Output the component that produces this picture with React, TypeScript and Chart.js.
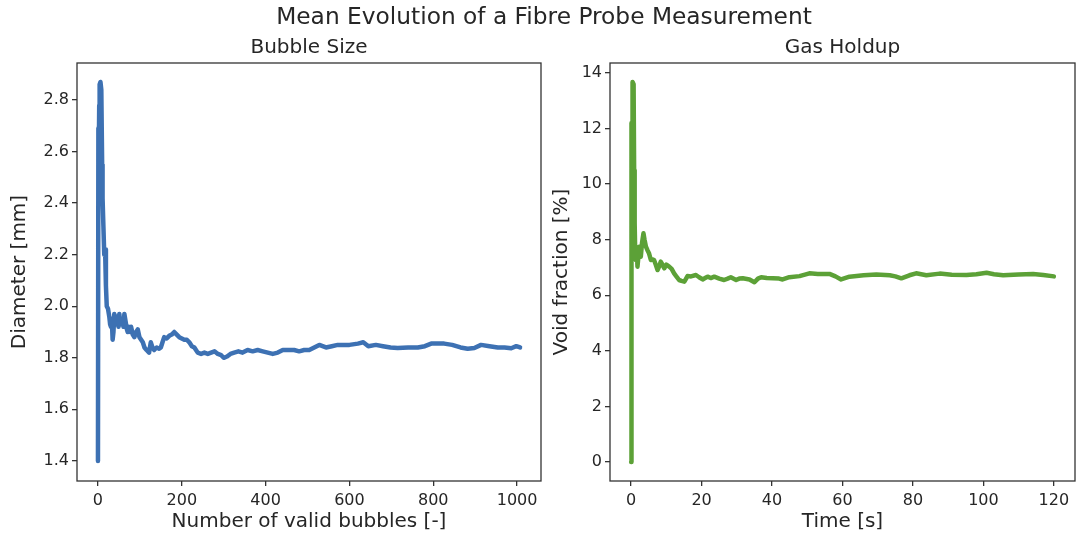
import React, { useEffect, useRef } from 'react';
import { Chart, registerables } from 'chart.js';

Chart.register(...registerables);

// ---------- data ----------
const BUBBLE_COUNT = [
  0, 1, 2, 3, 4, 6, 8, 10, 11, 13, 15, 17, 19, 21, 24, 27, 29, 31, 33, 35, 37, 39, 41, 43, 46, 49,
  51, 53, 55, 58, 61, 63, 66, 69, 71, 74, 77, 79, 83, 87, 91, 95, 99, 103, 107, 111, 116, 122,
  126, 130, 134, 140, 146, 150, 154, 158, 164, 170, 176, 182, 188, 194, 200, 206, 212, 218, 224,
  230, 238, 246, 254, 262, 270, 278, 286, 294, 300, 308, 316, 325, 335, 345, 357, 369, 381, 393,
  405, 417, 429, 441, 455, 468, 480, 492, 504, 516, 528, 544, 558, 572, 586, 600, 620, 633, 645,
  663, 680, 698, 715, 740, 763, 780, 795, 810, 826, 845, 865, 882, 898, 914, 934, 954, 970, 986,
  998, 1007,
];
const MEAN_DIAMETER = [
  1.40, 2.69, 2.60, 2.78, 2.86, 2.87, 2.84, 2.55, 2.42, 2.31, 2.20, 2.22, 2.08, 2.00, 1.99, 1.96,
  1.93, 1.92, 1.95, 1.87, 1.90, 1.97, 1.94, 1.93, 1.96, 1.92, 1.97, 1.94, 1.93, 1.95, 1.92, 1.97,
  1.94, 1.91, 1.90, 1.92, 1.90, 1.92, 1.89, 1.88, 1.90, 1.91, 1.88, 1.87, 1.86, 1.84, 1.83, 1.82,
  1.86, 1.84, 1.83, 1.84, 1.835, 1.84, 1.86, 1.88, 1.875, 1.885, 1.89, 1.90, 1.89, 1.88, 1.875,
  1.87, 1.87, 1.86, 1.845, 1.84, 1.82, 1.815, 1.82, 1.815, 1.82, 1.825, 1.815, 1.81, 1.80, 1.805,
  1.815, 1.82, 1.825, 1.82, 1.83, 1.825, 1.83, 1.825, 1.82, 1.815, 1.82, 1.83, 1.83, 1.83, 1.825,
  1.83, 1.83, 1.84, 1.85, 1.84, 1.845, 1.85, 1.85, 1.85, 1.855, 1.86, 1.845, 1.85, 1.845, 1.84,
  1.838, 1.84, 1.84, 1.845, 1.855, 1.855, 1.855, 1.85, 1.84, 1.835, 1.838, 1.85, 1.845, 1.84,
  1.84, 1.837, 1.845, 1.84,
];

const TIME_S = [
  0, 0.1, 0.25, 0.4, 0.7, 0.85, 1.0, 1.15, 1.33, 1.6, 1.8, 2.0, 2.27, 2.5, 2.75, 3.1, 3.5, 3.8,
  4.2, 4.6, 5.1, 5.6, 6.0, 6.5, 7.0, 7.5, 8.0, 8.4, 8.9, 9.4, 10.0, 10.8, 11.5, 12.2, 13.0, 13.6,
  14.3, 15.1, 15.6, 16.0, 17.0, 18.4, 19.3, 20.3, 21.0, 21.7, 22.6, 23.6, 25.0, 26.4, 27.4, 28.3,
  29.8, 30.7, 31.7, 33.6, 35.0, 36.0, 36.9, 38.5, 40.2, 42.0, 43.0, 44.9, 47.8, 50.6, 53.0, 56.3,
  58.0, 59.6, 62.0, 66.0, 69.6, 73.4, 75.0, 76.7, 79.0, 80.9, 83.8, 87.6, 91.0, 95.2, 98.0, 100.9,
  103.0, 105.6, 110.0, 114.1, 117.0, 120.0,
];
const VOID_FRACTION = [
  0, 12.2, 11.0, 13.68, 13.6, 10.5, 8.6, 7.6, 7.27, 7.6, 7.03, 7.3, 7.75, 7.6, 7.39, 7.9, 8.23, 8.0,
  7.75, 7.63, 7.5, 7.27, 7.3, 7.27, 7.1, 6.91, 7.05, 7.21, 7.1, 6.97, 7.1, 7.03, 6.95, 6.79, 6.65,
  6.55, 6.52, 6.49, 6.6, 6.69, 6.68, 6.73, 6.65, 6.57, 6.62, 6.67, 6.62, 6.67, 6.6, 6.55, 6.6, 6.65,
  6.55, 6.6, 6.61, 6.57, 6.47, 6.6, 6.65, 6.62, 6.61, 6.6, 6.57, 6.65, 6.69, 6.79, 6.77, 6.77,
  6.68, 6.57, 6.67, 6.72, 6.75, 6.72, 6.68, 6.61, 6.72, 6.79, 6.72, 6.78, 6.74, 6.73, 6.76, 6.81,
  6.76, 6.72, 6.75, 6.77, 6.73, 6.68,
];

const BUBBLE_TICKS = [0, 200, 400, 600, 800, 1000];
const DIAMETER_TICKS = [1.4, 1.6, 1.8, 2.0, 2.2, 2.4, 2.6, 2.8];
const TIME_TICKS = [0, 20, 40, 60, 80, 100, 120];
const VOID_TICKS = [0, 2, 4, 6, 8, 10, 12, 14];

const SUPTITLE = 'Mean Evolution of a Fibre Probe Measurement';

// ---------- styling ----------
const FONT = "'DejaVu Sans', sans-serif";
const TEXT = '#262626';
const SPINE = '#333333';

const framePlugin = {
  id: 'frame',
  afterDraw(chart: any) {
    const { ctx, chartArea: a } = chart;
    ctx.save();
    ctx.strokeStyle = SPINE;
    ctx.lineWidth = 1.3;
    ctx.strokeRect(a.left, a.top, a.right - a.left, a.bottom - a.top);
    ctx.restore();
  },
};

function makeTitlePlugin(text: string) {
  return {
    id: 'panelTitle',
    afterDraw(chart: any) {
      const { ctx, chartArea: a } = chart;
      ctx.save();
      ctx.fillStyle = TEXT;
      ctx.font = `20px ${FONT}`;
      ctx.textAlign = 'center';
      ctx.textBaseline = 'middle';
      ctx.fillText(text, (a.left + a.right) / 2, 48);
      ctx.restore();
    },
  };
}

type PanelSpec = {
  title: string;
  xs: number[];
  ys: number[];
  color: string;
  xTicks: number[];
  yTicks: number[];
  xMin: number;
  xMax: number;
  yMin: number;
  yMax: number;
  xLabel: string;
  yLabel: string;
  yFmt: (v: number) => string;
  yAxisWidth: number;
  yTitlePad: number;
  rightPad: number;
};

function buildConfig(p: PanelSpec): any {
  return {
    type: 'line',
    data: {
      datasets: [
        {
          data: p.xs.map((x, i) => ({ x, y: p.ys[i] })),
          borderColor: p.color,
          backgroundColor: p.color,
          borderWidth: 4.5,
          pointRadius: 0,
          tension: 0,
          fill: false,
          borderJoinStyle: 'round',
          borderCapStyle: 'round',
        },
      ],
    },
    options: {
      responsive: false,
      animation: false,
      devicePixelRatio: 1,
      layout: { padding: { top: 63, left: 0, bottom: 0, right: p.rightPad } },
      plugins: {
        legend: { display: false },
        tooltip: { enabled: false },
        title: { display: false },
      },
      scales: {
        x: {
          type: 'linear',
          min: p.xMin,
          max: p.xMax,
          afterBuildTicks: (s: any) => {
            s.ticks = p.xTicks.map((v) => ({ value: v }));
          },
          afterFit: (s: any) => {
            s.height = 57;
          },
          grid: {
            drawOnChartArea: false,
            drawTicks: true,
            tickLength: 5,
            color: SPINE,
            lineWidth: 1.3,
          },
          border: { display: false },
          ticks: {
            autoSkip: false,
            maxRotation: 0,
            padding: 5,
            color: TEXT,
            font: { family: FONT, size: 16 },
            callback: (v: any) => String(v),
          },
          title: {
            display: true,
            text: p.xLabel,
            color: TEXT,
            font: { family: FONT, size: 20, lineHeight: 1.2 },
            padding: { top: 0, bottom: 4 },
          },
        },
        y: {
          type: 'linear',
          min: p.yMin,
          max: p.yMax,
          afterBuildTicks: (s: any) => {
            s.ticks = p.yTicks.map((v) => ({ value: v }));
          },
          afterFit: (s: any) => {
            s.width = p.yAxisWidth;
          },
          grid: {
            drawOnChartArea: false,
            drawTicks: true,
            tickLength: 5,
            color: SPINE,
            lineWidth: 1.3,
          },
          border: { display: false },
          ticks: {
            autoSkip: false,
            padding: 3,
            color: TEXT,
            font: { family: FONT, size: 16 },
            callback: (v: any) => p.yFmt(Number(v)),
          },
          title: {
            display: true,
            text: p.yLabel,
            color: TEXT,
            font: { family: FONT, size: 20, lineHeight: 1.2 },
            padding: { top: p.yTitlePad, bottom: 0 },
          },
        },
      },
    },
    plugins: [framePlugin, makeTitlePlugin(p.title)],
  };
}

function Panel(props: { spec: PanelSpec; left: number; width: number }) {
  const ref = useRef<HTMLCanvasElement | null>(null);
  useEffect(() => {
    if (!ref.current) return;
    const chart = new Chart(ref.current, buildConfig(props.spec));
    return () => chart.destroy();
  }, []);
  return (
    <canvas
      ref={ref}
      width={props.width}
      height={538}
      style={{
        position: 'absolute',
        left: props.left,
        top: 0,
        width: props.width,
        height: 538,
        display: 'block',
      }}
    />
  );
}

const leftSpec: PanelSpec = {
  title: 'Bubble Size',
  xs: BUBBLE_COUNT,
  ys: MEAN_DIAMETER,
  color: '#3d71b3',
  xTicks: BUBBLE_TICKS,
  yTicks: DIAMETER_TICKS,
  xMin: -50,
  xMax: 1057,
  yMin: 1.322,
  yMax: 2.9435,
  xLabel: 'Number of valid bubbles [-]',
  yLabel: 'Diameter [mm]',
  yFmt: (v) => v.toFixed(1),
  yAxisWidth: 77,
  yTitlePad: 8,
  rightPad: 19,
};

const rightSpec: PanelSpec = {
  title: 'Gas Holdup',
  xs: TIME_S,
  ys: VOID_FRACTION,
  color: '#5ca137',
  xTicks: TIME_TICKS,
  yTicks: VOID_TICKS,
  xMin: -6,
  xMax: 126,
  yMin: -0.684,
  yMax: 14.36,
  xLabel: 'Time [s]',
  yLabel: 'Void fraction [%]',
  yFmt: (v) => String(Math.round(v)),
  yAxisWidth: 65,
  yTitlePad: 5,
  rightPad: 7,
};

export default function App() {
  return (
    <div
      style={{
        position: 'fixed',
        left: 0,
        top: 0,
        width: 1082,
        height: 538,
        background: '#ffffff',
        overflow: 'hidden',
      }}
    >
      <Panel spec={leftSpec} left={0} width={560} />
      <Panel spec={rightSpec} left={545} width={537} />
      <div
        style={{
          position: 'absolute',
          left: 0,
          top: 2,
          width: 1088,
          textAlign: 'center',
          fontFamily: FONT,
          fontSize: 23.3,
          lineHeight: '28px',
          color: TEXT,
          whiteSpace: 'nowrap',
        }}
      >
        {SUPTITLE}
      </div>
    </div>
  );
}
